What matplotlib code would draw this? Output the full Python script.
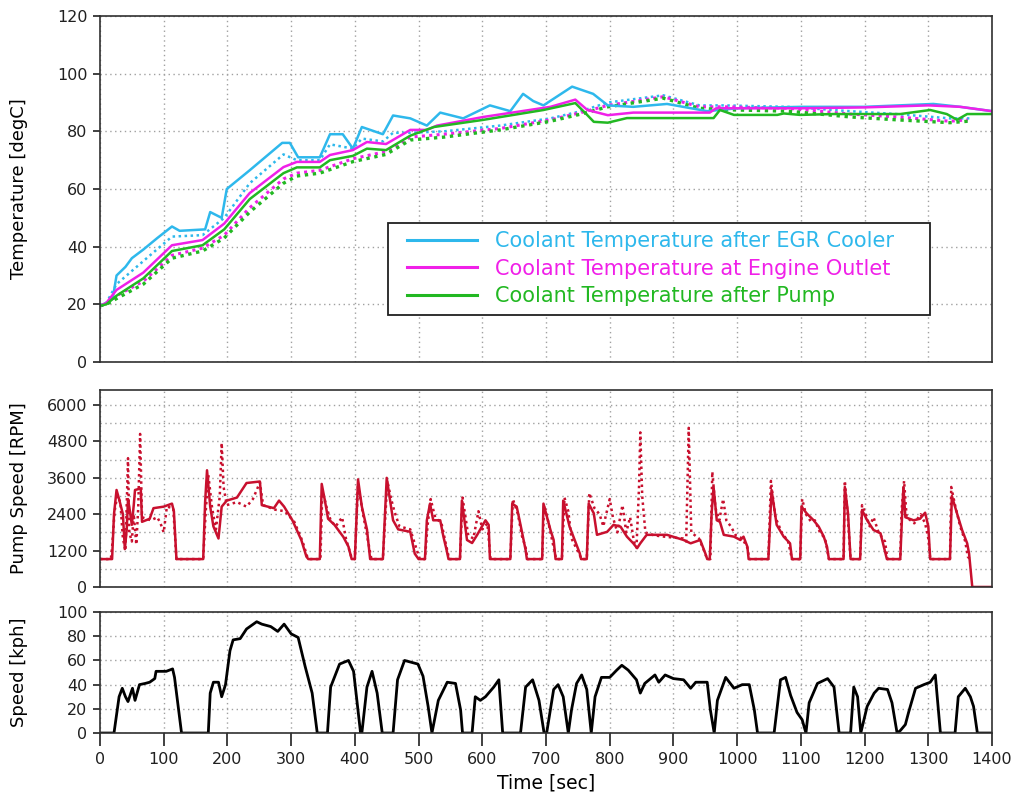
import matplotlib
matplotlib.use("Agg")
import matplotlib.pyplot as plt
from matplotlib.ticker import MultipleLocator
from matplotlib.patches import Rectangle

# ---------------- data ----------------
# Coolant temperature after EGR cooler (measured = solid, model = dotted)
t_egr_meas = [0, 10, 20, 26, 40, 50, 68, 90, 113, 125, 165, 173, 191, 199, 235, 286, 298, 311, 345, 361,
              381, 397, 411, 444, 460, 487, 513, 534, 570, 612, 644, 664, 680, 696, 741, 774, 797, 837,
              890, 953, 1000, 1100, 1200, 1308, 1350, 1400]
T_egr_meas = [19.5, 20.5, 22, 30, 33, 36, 39, 43, 47, 45.5, 46, 52, 50, 60, 66.5, 76, 76, 71, 71, 79,
              79, 74, 81.5, 79, 85.5, 84.5, 82, 86.5, 84.5, 89, 87, 93, 90.5, 89, 95.5, 93, 89, 88.5,
              89.5, 87, 88, 88.5, 88.5, 89.5, 88.5, 87]
t_egr_model = [0, 10, 26, 68, 113, 161, 195, 235, 288, 309, 345, 361, 397, 411, 444, 460, 487, 540, 628,
               707, 755, 797, 884, 941, 980, 1080, 1177, 1250, 1334, 1365]
T_egr_model = [19.5, 20.5, 27, 35, 43.5, 44, 50, 62, 72, 70, 70, 75.5, 74, 77.5, 76.5, 79.5, 79.5, 80, 82,
               84.5, 87, 90, 92.5, 89, 89, 88.5, 87, 86, 84.5, 84.5]

# Coolant temperature at engine outlet
t_eng_meas = [0, 10, 26, 68, 113, 161, 195, 235, 288, 309, 345, 361, 397, 419, 449, 487, 513, 529, 602,
              707, 746, 765, 797, 837, 957, 967, 1100, 1200, 1300, 1350, 1400]
T_eng_meas = [19.5, 20.5, 25, 31, 40.5, 42.3, 48, 58.6, 67.6, 69.4, 69.4, 71.8, 73.5, 76.3, 75.6, 80.5,
              80.5, 82, 85, 88.5, 91, 87.4, 85.6, 86.5, 86.5, 88, 88, 88.3, 89, 88.5, 87]
t_eng_model = [0, 10, 26, 68, 113, 161, 195, 235, 288, 309, 345, 397, 449, 487, 540, 628, 707, 755, 797,
               884, 941, 980, 1080, 1177, 1250, 1334, 1362]
T_eng_model = [19.5, 20, 23, 28, 37, 39.5, 44, 53.5, 63.5, 65.5, 66.5, 70.5, 73, 78, 79, 81, 84, 86.5, 89,
               92, 88.5, 88.5, 88, 86, 85, 83.5, 84]

# Coolant temperature after pump
t_pump_meas = [0, 10, 26, 68, 113, 161, 195, 235, 288, 309, 345, 361, 397, 419, 449, 487, 524, 602, 696,
               746, 765, 775, 797, 827, 963, 973, 995, 1063, 1073, 1099, 1151, 1256, 1303, 1329, 1345,
               1361, 1400]
T_pump_meas = [19.5, 20, 23, 29, 38.5, 40.5, 46, 56.5, 65.5, 67.5, 67.5, 70, 71.5, 74, 73.5, 78.5, 81.5,
               84, 87.4, 89.8, 85.6, 83.3, 83, 84.6, 84.6, 87.4, 85.7, 85.7, 86.2, 85.7, 86, 86, 87.4,
               86, 84, 86, 86]
t_pump_model = [0, 10, 26, 68, 113, 161, 195, 235, 288, 309, 345, 397, 449, 487, 540, 628, 707, 755, 797,
                884, 941, 980, 1080, 1177, 1250, 1334, 1362]
T_pump_model = [19.5, 20, 22, 27, 36, 38.5, 43, 52, 62, 64.5, 65.5, 69.5, 72, 77, 78, 80.5, 83.5, 86,
                88.5, 91.5, 88, 87.5, 87, 85, 84, 83, 83.5]

# Pump speed [RPM]
t_rpm_meas = [0, 19, 22, 26, 30, 36, 39, 42, 44, 47, 50, 53, 55, 64, 66, 78, 84, 100, 113, 116, 120, 162,
              165, 168, 173, 178, 186, 191, 199, 215, 230, 251, 254, 273, 281, 289, 302, 316, 324, 327,
              345, 348, 353, 358, 368, 382, 390, 395, 400, 405, 411, 419, 424, 444, 450, 460, 468, 487,
              494, 500, 510, 513, 518, 523, 534, 539, 544, 547, 565, 568, 576, 584, 592, 605, 610, 612,
              644, 647, 654, 660, 668, 670, 694, 696, 707, 712, 715, 725, 727, 737, 753, 755, 764, 767,
              775, 780, 796, 806, 817, 827, 837, 843, 848, 858, 890, 916, 927, 942, 950, 953, 957, 960,
              963, 968, 973, 979, 995, 1005, 1010, 1016, 1018, 1049, 1054, 1062, 1073, 1083, 1086, 1099,
              1101, 1109, 1120, 1128, 1136, 1141, 1144, 1167, 1169, 1174, 1178, 1193, 1196, 1204, 1214,
              1225, 1235, 1256, 1259, 1261, 1264, 1277, 1287, 1295, 1300, 1303, 1334, 1337, 1345, 1353,
              1361, 1364, 1369, 1400]
P_rpm_meas = [920, 920, 2400, 3200, 2900, 2400, 1250, 1900, 2900, 2500, 2050, 2700, 3200, 3250, 2150, 2250,
              2600, 2650, 2750, 2500, 920, 920, 2800, 3850, 2650, 2000, 1600, 2650, 2850, 2950, 3430,
              3480, 2700, 2600, 2850, 2650, 2200, 1550, 1000, 920, 920, 3400, 2850, 2250, 2050, 1650,
              1330, 920, 920, 3550, 2650, 1900, 920, 920, 3600, 2200, 1900, 1820, 1100, 920, 920, 2200,
              2750, 2200, 2200, 1660, 1220, 920, 920, 2850, 1550, 1450, 1720, 2200, 2050, 920, 920, 2750,
              2650, 2050, 1220, 920, 920, 2750, 1880, 1550, 920, 920, 2850, 1990, 1110, 920, 920, 2750,
              2430, 1720, 1820, 2050, 1990, 1660, 1440, 1280, 1440, 1720, 1720, 1550, 1440, 1550, 1110,
              920, 920, 2450, 3300, 2200, 2150, 1720, 1660, 1550, 1660, 1330, 920, 920, 3200, 2050, 1660,
              1440, 920, 920, 2650, 2430, 2200, 1990, 1660, 1330, 920, 920, 3300, 2430, 920, 920, 2540,
              2200, 1880, 1770, 920, 920, 2450, 3300, 2300, 2200, 2250, 2450, 2000, 920, 920, 3000,
              2430, 1880, 1440, 1100, 0, 0]
t_rpm_model = [0, 17, 19, 23, 27, 32, 36, 40, 44, 46, 50, 53, 57, 60, 63, 66, 80, 90, 95, 100, 105, 115,
               120, 162, 166, 170, 176, 182, 188, 191, 194, 199, 215, 230, 240, 251, 256, 275, 290, 305,
               318, 326, 330, 346, 349, 356, 362, 370, 380, 386, 395, 400, 405, 412, 420, 426, 444, 451,
               457, 462, 470, 487, 496, 502, 510, 514, 519, 526, 536, 542, 548, 565, 569, 578, 586, 594,
               600, 608, 613, 644, 648, 656, 662, 668, 671, 694, 697, 702, 710, 716, 725, 729, 735, 740,
               756, 764, 768, 776, 784, 790, 800, 805, 812, 820, 826, 832, 838, 842, 846, 848, 851, 856,
               870, 890, 915, 920, 924, 928, 940, 948, 953, 958, 961, 966, 972, 978, 983, 990, 998, 1008,
               1016, 1019, 1049, 1053, 1060, 1070, 1080, 1086, 1099, 1102, 1108, 1116, 1122, 1130, 1138,
               1144, 1167, 1169, 1173, 1178, 1193, 1196, 1202, 1208, 1214, 1222, 1232, 1236, 1256, 1258,
               1262, 1266, 1278, 1288, 1295, 1300, 1303, 1334, 1336, 1342, 1350, 1358, 1362, 1366]
P_rpm_model = [920, 920, 1300, 2500, 3000, 2800, 1600, 1200, 4250, 1800, 1500, 2400, 1400, 2600, 5050,
               2300, 2200, 2300, 2100, 1800, 2650, 2600, 920, 920, 2500, 3700, 2600, 1900, 3000, 4750,
               3300, 2700, 2800, 2650, 2900, 3450, 2700, 2550, 2500, 2150, 1500, 950, 920, 920, 3200,
               2600, 2200, 2000, 2300, 1600, 950, 920, 3400, 2500, 1600, 920, 920, 3500, 2900, 2500,
               2000, 1900, 1300, 920, 920, 2000, 2900, 2300, 2100, 1500, 920, 920, 2950, 1700, 1600,
               2500, 1900, 2100, 920, 920, 2900, 2400, 1700, 1300, 920, 920, 2700, 2300, 1500, 920, 920,
               2950, 2500, 1600, 920, 920, 3100, 2600, 2400, 2000, 2900, 2300, 1800, 2700, 1800, 2300,
               1500, 1300, 3300, 5100, 3000, 1800, 1700, 1650, 1600, 1500, 5250, 1800, 1600, 1200, 920,
               920, 3800, 2600, 2200, 2900, 2200, 2000, 1700, 1600, 1300, 920, 920, 3500, 2300, 1800,
               1500, 920, 920, 2900, 2400, 2150, 2200, 1800, 1600, 920, 920, 3500, 2500, 920, 920, 2700,
               2400, 2000, 2300, 1800, 1500, 920, 920, 2500, 3500, 2300, 2100, 2400, 2100, 1600, 920, 920,
               3300, 2700, 2000, 1500, 1000, 900]

# Vehicle speed [kph]
t_speed = [0, 22, 30, 35, 40, 44, 51, 55, 62, 71, 78, 86, 88, 104, 114, 117, 128, 170, 173, 178, 186,
           191, 197, 204, 209, 220, 230, 246, 254, 268, 279, 289, 300, 311, 322, 333, 341, 357, 362, 376,
           390, 398, 409, 411, 419, 427, 435, 443, 460, 467, 478, 499, 507, 515, 521, 531, 545, 558, 566,
           569, 584, 589, 597, 605, 618, 626, 632, 660, 668, 679, 689, 697, 701, 712, 719, 727, 735, 740,
           748, 756, 764, 771, 777, 787, 800, 811, 819, 829, 842, 848, 855, 871, 877, 887, 900, 916, 927,
           935, 953, 958, 964, 969, 982, 995, 1008, 1019, 1027, 1032, 1058, 1068, 1076, 1084, 1094, 1102,
           1108, 1113, 1126, 1142, 1152, 1160, 1178, 1183, 1189, 1194, 1204, 1215, 1222, 1236, 1243, 1251,
           1256, 1264, 1269, 1280, 1293, 1303, 1311, 1319, 1342, 1347, 1358, 1366, 1371, 1377, 1400]
v_speed = [0, 0, 30, 37, 30, 26, 37, 27, 40, 41, 42, 45, 51, 51, 53, 46, 0, 0, 33, 42, 42, 30, 40, 68,
           77, 78, 86, 92, 90, 88, 84, 90, 82, 79, 55, 33, 0, 0, 38, 57, 60, 51, 0, 0, 38, 51, 33, 0, 0,
           44, 60, 57, 47, 22, 0, 27, 42, 41, 19, 0, 0, 30, 27, 30, 38, 44, 0, 0, 38, 44, 27, 0, 0, 36,
           40, 30, 0, 19, 41, 48, 36, 0, 30, 46, 46, 52, 56, 52, 44, 33, 41, 48, 42, 48, 45, 44, 37, 42,
           42, 19, 0, 27, 46, 37, 40, 40, 19, 0, 0, 44, 46, 31, 17, 11, 0, 25, 41, 45, 38, 0, 0, 38, 30,
           0, 22, 33, 37, 36, 25, 0, 2, 7, 17, 37, 40, 42, 48, 0, 0, 30, 37, 30, 22, 0, 0]

legend_labels = ["Coolant Temperature after EGR Cooler",
                 "Coolant Temperature at Engine Outlet",
                 "Coolant Temperature after Pump"]

# ---------------- style ----------------
c_egr = "#2EB8EC"
c_eng = "#F020E8"
c_pump = "#22B822"
c_rpm = "#C8102E"
dot = (0, (1, 1.4))

fig = plt.figure(figsize=(10.16, 7.96), dpi=100)
ax1 = fig.add_axes([0.0984, 0.5452, 0.878, 0.4347])
ax2 = fig.add_axes([0.0984, 0.2626, 0.878, 0.2475], sharex=ax1)
ax3 = fig.add_axes([0.0984, 0.0791, 0.878, 0.152], sharex=ax1)

grid_kw = dict(color="#A0A0A0", linestyle=(0, (1, 2.5)), linewidth=1.0)

for ax in (ax1, ax2, ax3):
    ax.set_xlim(0, 1400)
    ax.xaxis.set_major_locator(MultipleLocator(100))
    ax.grid(True, which="major", **grid_kw)
    for s in ax.spines.values():
        s.set_color("#303030")
        s.set_linewidth(1.2)
    ax.tick_params(axis="y", direction="out", length=5, width=1.2, pad=4, labelsize=11.5,
                   colors="#202020")
    ax.tick_params(axis="x", direction="out", length=9, width=1.2, pad=5, labelsize=11.5,
                   colors="#202020")

ax1.tick_params(axis="x", length=0, labelbottom=False)
ax2.tick_params(axis="x", length=0, labelbottom=False)

# Temperature panel
ax1.plot(t_egr_model, T_egr_model, color=c_egr, lw=1.8, linestyle=dot)
ax1.plot(t_eng_model, T_eng_model, color=c_eng, lw=2.2, linestyle=dot)
ax1.plot(t_pump_model, T_pump_model, color=c_pump, lw=2.4, linestyle=dot)
l1, = ax1.plot(t_egr_meas, T_egr_meas, color=c_egr, lw=1.8)
l2, = ax1.plot(t_eng_meas, T_eng_meas, color=c_eng, lw=1.8)
l3, = ax1.plot(t_pump_meas, T_pump_meas, color=c_pump, lw=1.8)
ax1.set_ylim(0, 120)
ax1.yaxis.set_major_locator(MultipleLocator(20))
ax1.set_ylabel("Temperature [degC]", fontsize=13)

# legend: frameless entries plus a separate square frame
ax1.add_patch(Rectangle((0.3229, 0.1358), 0.6076, 0.2659, transform=ax1.transAxes,
                        facecolor="white", edgecolor="#202020", linewidth=1.3, zorder=4))
leg = ax1.legend([l1, l2, l3], legend_labels,
                 loc="upper left", bbox_to_anchor=(0.344, 0.378),
                 fontsize=15, frameon=False, handlelength=3.36,
                 handletextpad=0.85, borderpad=0, labelspacing=0.35, borderaxespad=0)
leg.set_zorder(5)
for txt, col in zip(leg.get_texts(), [c_egr, c_eng, c_pump]):
    txt.set_color(col)
for h in leg.legend_handles:
    h.set_linewidth(2.2)

# Pump speed panel
ax2.plot(t_rpm_model, P_rpm_model, color=c_rpm, lw=1.8, linestyle=dot)
ax2.plot(t_rpm_meas, P_rpm_meas, color=c_rpm, lw=1.8)
ax2.set_ylim(0, 6500)
ax2.yaxis.set_major_locator(MultipleLocator(1200))
ax2.yaxis.set_minor_locator(MultipleLocator(600))
ax2.tick_params(axis="y", which="minor", length=0)
ax2.grid(True, which="minor", axis="y", **grid_kw)
ax2.set_ylabel("Pump Speed [RPM]", fontsize=13)

# Vehicle speed panel
ax3.plot(t_speed, v_speed, color="black", lw=2.0)
ax3.set_ylim(0, 100)
ax3.yaxis.set_major_locator(MultipleLocator(20))
ax3.set_ylabel("Speed [kph]", fontsize=13)
ax3.set_xlabel("Time [sec]", fontsize=13.5, labelpad=4)

for ax in (ax1, ax2, ax3):
    ax.yaxis.set_label_coords(-0.081, 0.5)

fig.savefig("out.png", dpi=100)
